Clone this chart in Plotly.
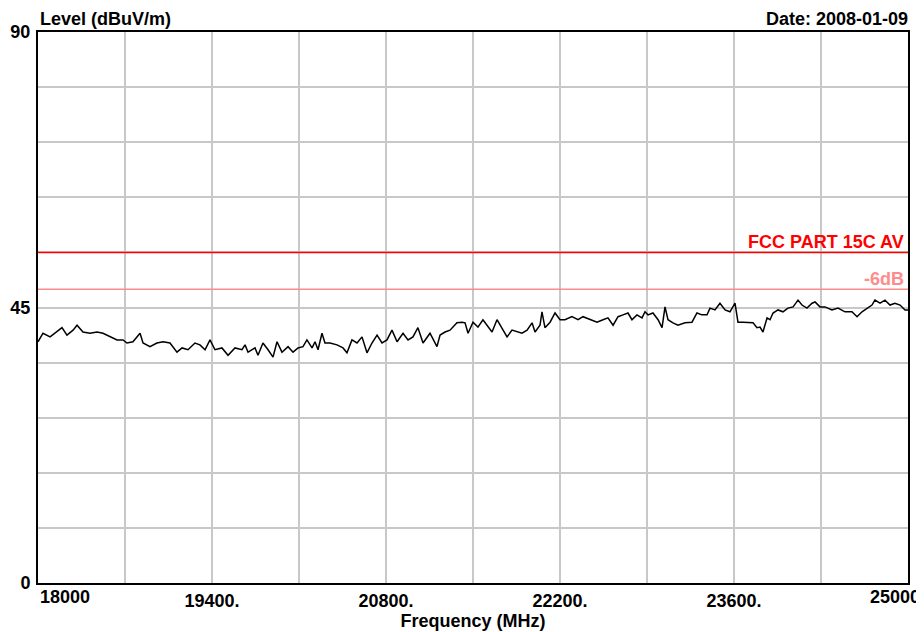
import plotly.graph_objects as go

# Data
freq_mhz = [18000, 18040, 18097, 18153, 18193, 18233, 18282, 18314, 18362, 18418, 18475, 18523,
            18579, 18636, 18684, 18716, 18764, 18821, 18845, 18901, 18957, 19006, 19062, 19118,
            19159, 19207, 19263, 19303, 19344, 19384, 19424, 19480, 19529, 19585, 19641, 19666,
            19690, 19746, 19770, 19810, 19851, 19891, 19923, 19963, 20012, 20052, 20092, 20132,
            20164, 20205, 20229, 20253, 20285, 20309, 20350, 20406, 20454, 20486, 20526, 20567,
            20607, 20647, 20687, 20728, 20768, 20808, 20848, 20889, 20937, 20977, 21017, 21057,
            21098, 21154, 21210, 21235, 21275, 21315, 21371, 21412, 21436, 21460, 21500, 21540,
            21580, 21621, 21653, 21693, 21733, 21774, 21814, 21854, 21894, 21935, 21975, 21999,
            22039, 22055, 22079, 22120, 22160, 22200, 22240, 22296, 22345, 22385, 22441, 22498,
            22546, 22586, 22627, 22667, 22707, 22747, 22779, 22819, 22860, 22884, 22908, 22948,
            22989, 23021, 23045, 23069, 23109, 23149, 23206, 23262, 23302, 23342, 23383, 23407,
            23447, 23487, 23528, 23568, 23608, 23632, 23672, 23713, 23753, 23785, 23809, 23833,
            23866, 23890, 23914, 23954, 23994, 24034, 24075, 24115, 24147, 24187, 24228, 24252,
            24292, 24332, 24388, 24437, 24493, 24549, 24590, 24630, 24670, 24710, 24734, 24775,
            24815, 24855, 24895, 24936, 24976, 25000]
level_dbuv = [39.4, 40.8, 40.2, 41.0, 41.7, 40.5, 41.3, 42.1, 41.0, 40.8, 41.0, 40.8,
              40.2, 39.7, 39.7, 39.2, 39.4, 40.8, 39.2, 38.6, 39.2, 39.4, 39.2, 37.7,
              38.4, 38.1, 39.2, 38.9, 38.1, 39.7, 38.1, 38.4, 37.2, 38.4, 38.1, 38.9,
              37.7, 38.4, 37.2, 39.2, 38.1, 36.9, 39.4, 37.7, 38.6, 37.7, 38.4, 38.6,
              39.7, 38.4, 39.4, 38.1, 40.8, 39.2, 39.2, 38.9, 38.4, 37.6, 39.7, 39.2,
              40.2, 37.6, 39.2, 40.5, 39.2, 39.7, 41.3, 39.4, 40.8, 39.7, 40.2, 41.7,
              39.2, 40.8, 38.6, 40.5, 41.0, 41.3, 42.5, 42.6, 42.5, 40.8, 42.6, 41.8,
              43.0, 41.8, 41.0, 43.0, 41.7, 40.2, 41.3, 41.0, 40.8, 41.3, 42.5, 41.0,
              42.1, 44.3, 41.7, 42.6, 44.1, 43.0, 43.0, 43.5, 43.0, 43.5, 43.0, 42.6,
              43.0, 43.3, 42.1, 43.5, 43.8, 44.1, 43.0, 43.8, 43.3, 44.3, 43.8, 44.1,
              43.0, 41.7, 45.1, 43.0, 42.5, 42.1, 42.5, 42.6, 44.1, 43.8, 43.8, 44.9,
              44.6, 45.7, 44.6, 44.3, 45.7, 42.6, 42.6, 42.5, 42.5, 41.7, 41.8, 41.0,
              43.3, 43.0, 44.1, 44.6, 44.3, 44.9, 45.1, 46.2, 45.4, 44.9, 45.7, 45.9,
              45.1, 45.1, 44.6, 44.9, 44.3, 44.3, 43.5, 44.3, 44.9, 45.4, 46.2, 45.7,
              46.2, 45.4, 45.7, 45.4, 44.6, 44.6]

limit_name = "FCC PART 15C AV"
limit_level = 54
margin_name = "-6dB"
margin_level = 48

x_min, x_max = 18000, 25000
x_grid = list(range(18000, 25001, 700))
x_labels = ["", "", "19400.", "", "20800.", "", "22200.", "", "23600.", "", ""]
y_grid = list(range(0, 91, 9))
y_labels = ["0", "", "", "", "", "45", "", "", "", "", "90"]

FONT = "Liberation Sans, Arial, sans-serif"
FS = 18

fig = go.Figure()
fig.add_trace(go.Scatter(x=[x_min, x_max], y=[limit_level, limit_level], mode="lines",
                         line=dict(color="#ff0000", width=1.5), hoverinfo="skip", showlegend=False))
fig.add_trace(go.Scatter(x=[x_min, x_max], y=[margin_level, margin_level], mode="lines",
                         line=dict(color="#ff8c8c", width=1.5), hoverinfo="skip", showlegend=False))
fig.add_trace(go.Scatter(x=freq_mhz, y=level_dbuv, mode="lines",
                         line=dict(color="#000000", width=1.5), showlegend=False))

# the page body adds an 8px offset, so the figure is 8px smaller on each axis
fig.update_layout(
    width=916, height=624,
    margin=dict(l=30, r=16, t=24, b=49, autoexpand=False),
    paper_bgcolor="white", plot_bgcolor="white",
    font=dict(family=FONT, size=FS, color="black"),
    xaxis=dict(range=[x_min, x_max], tickmode="array", tickvals=x_grid, ticktext=x_labels,
               showgrid=True, gridcolor="#c8c8c8", gridwidth=2, zeroline=False,
               showline=True, linecolor="black", linewidth=2, mirror=True,
               ticks="", tickfont=dict(family=FONT, size=FS, weight="bold"),
               title=dict(text="<b>Frequency (MHz)</b>", font=dict(size=FS), standoff=4)),
    yaxis=dict(range=[0, 90], tickmode="array", tickvals=y_grid, ticktext=y_labels,
               showgrid=True, gridcolor="#c8c8c8", gridwidth=2, zeroline=False,
               showline=True, linecolor="black", linewidth=2, mirror=True,
               ticks="", ticklabelstandoff=2,
               tickfont=dict(family=FONT, size=FS, weight="bold")),
    annotations=[
        dict(text="<b>Level (dBuV/m)</b>", xref="paper", yref="paper", x=0, y=1,
             xanchor="left", yanchor="bottom", yshift=1, showarrow=False, font=dict(size=FS)),
        dict(text="<b>Date: 2008-01-09</b>", xref="paper", yref="paper", x=1, y=1,
             xanchor="right", yanchor="bottom", yshift=1, xshift=2, showarrow=False, font=dict(size=FS)),
        dict(text="<b>18000</b>", xref="x", yref="paper", x=x_min, y=0,
             xanchor="left", yanchor="top", yshift=-2, showarrow=False, font=dict(size=FS)),
        dict(text="<b>25000</b>", xref="x", yref="paper", x=x_max, y=0,
             xanchor="right", yanchor="top", yshift=-2, xshift=14, showarrow=False, font=dict(size=FS)),
        dict(text="<b>" + limit_name + "</b>", xref="paper", yref="y", x=1, y=limit_level,
             xanchor="right", yanchor="bottom", xshift=-2, yshift=-2, showarrow=False,
             font=dict(size=FS, color="#ff0000")),
        dict(text="<b>" + margin_name + "</b>", xref="paper", yref="y", x=1, y=margin_level,
             xanchor="right", yanchor="bottom", xshift=-2, yshift=-2, showarrow=False,
             font=dict(size=FS, color="#ff8c8c")),
    ],
)

fig.write_html("out.html")
